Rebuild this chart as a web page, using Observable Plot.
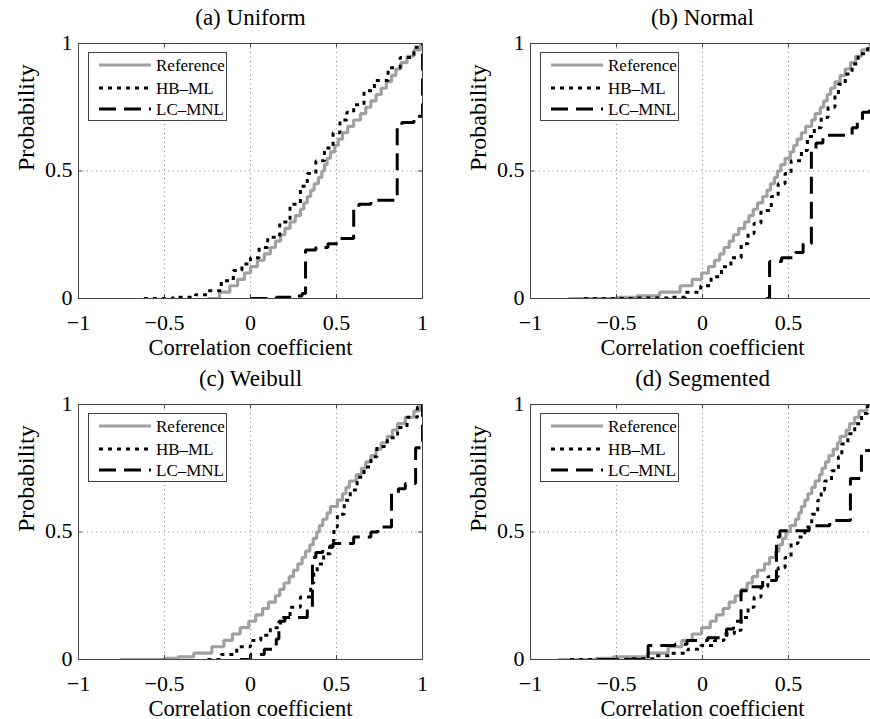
<!DOCTYPE html>
<html><head><meta charset="utf-8">
<script src="https://cdn.jsdelivr.net/npm/d3@7"></script>
<script src="https://cdn.jsdelivr.net/npm/@observablehq/plot@0.6"></script>
<style>
body{margin:0;background:#fff;}
#fig{position:relative;width:870px;height:719px;overflow:hidden;font-family:"Liberation Serif","DejaVu Serif",serif;background:#fff;}
.panel{position:absolute;}
.panel text{font-family:"Liberation Serif","DejaVu Serif",serif;}
.legend{position:absolute;width:137px;height:67px;border:1px solid #444;background:#fff;}
.legend text{font-family:"Liberation Serif","DejaVu Serif",serif;}
</style></head><body><div id="fig"></div>
<script>
// ---- data ----
const panelTitles = ["(a) Uniform", "(b) Normal", "(c) Weibull", "(d) Segmented"];
const seriesNames = ["Reference", "HB–ML", "LC–MNL"];
const xTickValues = [-1, -0.5, 0, 0.5, 1];
const xTickLabels = ["−1", "−0.5", "0", "0.5", "1"];
const yTickValues = [0, 0.5, 1];
const yTickLabels = ["0", "0.5", "1"];
const gridX = [-0.5, 0, 0.5];
const gridY = [0.5];
const xLabel = "Correlation coefficient";
const yLabel = "Probability";

// (a) Uniform
const refUniform = [[-0.25,0],[-0.18,0.025],[-0.12,0.05],[-0.075,0.075],[-0.035,0.1],[0.0,0.125],[0.04,0.15],[0.08,0.175],[0.115,0.2],[0.145,0.225],[0.175,0.25],[0.2,0.275],[0.23,0.3],[0.26,0.325],[0.29,0.35],[0.31,0.375],[0.33,0.4],[0.35,0.425],[0.37,0.45],[0.395,0.475],[0.415,0.5],[0.43,0.525],[0.445,0.55],[0.465,0.575],[0.49,0.6],[0.51,0.625],[0.535,0.65],[0.565,0.675],[0.6,0.7],[0.64,0.725],[0.67,0.75],[0.7,0.775],[0.73,0.8],[0.76,0.825],[0.79,0.85],[0.82,0.875],[0.845,0.9],[0.875,0.925],[0.91,0.95],[0.95,0.975],[0.99,1.0]];
const hbUniform = [[-0.62,0],[-0.45,0.005],[-0.32,0.015],[-0.25,0.03],[-0.17,0.07],[-0.1,0.11],[-0.05,0.135],[0.0,0.16],[0.05,0.2],[0.1,0.24],[0.17,0.3],[0.23,0.37],[0.29,0.44],[0.33,0.49],[0.38,0.54],[0.43,0.59],[0.48,0.65],[0.52,0.7],[0.56,0.73],[0.6,0.76],[0.66,0.815],[0.72,0.855],[0.8,0.905],[0.87,0.945],[0.95,0.985],[0.98,1.0]];
const lcUniform = [[0.0,0],[0.15,0.005],[0.25,0.01],[0.3,0.02],[0.32,0.19],[0.38,0.2],[0.45,0.215],[0.52,0.235],[0.6,0.35],[0.63,0.37],[0.7,0.385],[0.853,0.67],[0.88,0.69],[0.95,0.715],[1.0,1.0]];

// (b) Normal
const refNormal = [[-0.78,0],[-0.5,0.005],[-0.38,0.01],[-0.25,0.025],[-0.13,0.05],[-0.06,0.075],[-0.005,0.1],[0.035,0.125],[0.07,0.15],[0.1,0.175],[0.125,0.2],[0.155,0.225],[0.18,0.25],[0.21,0.275],[0.245,0.3],[0.27,0.325],[0.295,0.35],[0.32,0.375],[0.35,0.4],[0.375,0.425],[0.395,0.45],[0.418,0.475],[0.435,0.5],[0.455,0.525],[0.48,0.55],[0.51,0.575],[0.53,0.6],[0.55,0.625],[0.575,0.65],[0.6,0.675],[0.635,0.7],[0.655,0.725],[0.685,0.75],[0.705,0.775],[0.725,0.8],[0.745,0.825],[0.77,0.85],[0.8,0.875],[0.83,0.9],[0.86,0.925],[0.89,0.95],[0.925,0.975],[0.975,1.0]];
const hbNormal = [[-0.69,0],[-0.4,0.002],[-0.2,0.005],[-0.1,0.025],[-0.01,0.05],[0.05,0.085],[0.11,0.125],[0.165,0.16],[0.225,0.215],[0.265,0.255],[0.3,0.295],[0.34,0.345],[0.4,0.4],[0.44,0.45],[0.48,0.49],[0.515,0.54],[0.575,0.58],[0.61,0.635],[0.65,0.67],[0.69,0.71],[0.73,0.75],[0.77,0.8],[0.79,0.84],[0.83,0.88],[0.87,0.92],[0.905,0.96],[0.96,0.99],[0.99,1.0]];
const lcNormal = [[0.37,0],[0.39,0.145],[0.46,0.16],[0.54,0.18],[0.585,0.215],[0.633,0.58],[0.66,0.61],[0.7,0.64],[0.87,0.67],[0.9,0.7],[0.93,0.73],[0.97,0.745],[1.0,0.75]];

// (c) Weibull
const refWeibull = [[-0.76,0],[-0.5,0.005],[-0.42,0.01],[-0.33,0.025],[-0.225,0.05],[-0.155,0.075],[-0.105,0.1],[-0.06,0.125],[-0.01,0.15],[0.03,0.175],[0.07,0.2],[0.105,0.225],[0.145,0.25],[0.17,0.275],[0.195,0.3],[0.225,0.325],[0.25,0.35],[0.275,0.375],[0.3,0.4],[0.32,0.425],[0.345,0.45],[0.365,0.475],[0.385,0.5],[0.4,0.525],[0.42,0.55],[0.445,0.575],[0.465,0.6],[0.505,0.625],[0.535,0.65],[0.555,0.675],[0.575,0.7],[0.615,0.725],[0.645,0.75],[0.67,0.775],[0.7,0.8],[0.73,0.825],[0.76,0.85],[0.795,0.875],[0.825,0.9],[0.855,0.925],[0.9,0.95],[0.95,0.975],[0.985,1.0]];
const hbWeibull = [[-0.25,0],[-0.17,0.02],[-0.08,0.05],[0.0,0.075],[0.06,0.095],[0.115,0.125],[0.175,0.165],[0.23,0.205],[0.29,0.245],[0.35,0.3],[0.368,0.335],[0.388,0.375],[0.425,0.415],[0.465,0.465],[0.485,0.52],[0.505,0.57],[0.545,0.625],[0.58,0.665],[0.62,0.715],[0.66,0.755],[0.7,0.795],[0.735,0.835],[0.795,0.87],[0.855,0.91],[0.91,0.95],[0.97,0.99],[0.99,1.0]];
const lcWeibull = [[-0.06,0],[0.0,0.02],[0.08,0.04],[0.15,0.08],[0.165,0.15],[0.2,0.165],[0.33,0.2],[0.36,0.4],[0.38,0.42],[0.42,0.44],[0.48,0.455],[0.6,0.48],[0.7,0.5],[0.74,0.52],[0.82,0.65],[0.86,0.67],[0.9,0.69],[0.96,0.83],[1.0,1.0]];

// (d) Segmented
const refSegmented = [[-0.84,0],[-0.62,0.005],[-0.52,0.01],[-0.32,0.025],[-0.2,0.05],[-0.12,0.075],[-0.06,0.1],[-0.005,0.125],[0.045,0.15],[0.08,0.175],[0.12,0.2],[0.155,0.225],[0.19,0.25],[0.225,0.275],[0.26,0.3],[0.29,0.325],[0.32,0.35],[0.36,0.375],[0.39,0.4],[0.425,0.425],[0.445,0.45],[0.465,0.475],[0.485,0.5],[0.51,0.525],[0.54,0.55],[0.56,0.575],[0.575,0.6],[0.595,0.625],[0.613,0.65],[0.635,0.675],[0.655,0.7],[0.68,0.725],[0.695,0.75],[0.715,0.775],[0.735,0.8],[0.76,0.825],[0.785,0.85],[0.8,0.875],[0.835,0.9],[0.855,0.925],[0.885,0.95],[0.91,0.975],[0.955,1.0]];
const hbSegmented = [[-0.77,0],[-0.44,0.003],[-0.28,0.015],[-0.18,0.025],[-0.085,0.04],[-0.01,0.055],[0.07,0.075],[0.125,0.1],[0.185,0.115],[0.225,0.165],[0.265,0.205],[0.3,0.245],[0.34,0.285],[0.38,0.325],[0.44,0.36],[0.48,0.4],[0.515,0.455],[0.555,0.48],[0.595,0.52],[0.635,0.57],[0.67,0.625],[0.69,0.665],[0.71,0.7],[0.75,0.74],[0.79,0.795],[0.81,0.845],[0.845,0.885],[0.885,0.925],[0.925,0.965],[0.96,0.995],[0.99,1.0]];
const lcSegmented = [[-0.6,0],[-0.316,0.055],[-0.16,0.06],[-0.09,0.075],[0.03,0.085],[0.14,0.12],[0.18,0.15],[0.224,0.27],[0.285,0.285],[0.35,0.31],[0.43,0.48],[0.45,0.505],[0.62,0.525],[0.74,0.545],[0.86,0.71],[0.924,0.82],[1.0,0.83]];

// right-hand panels are cut at the figure edge, so their "1" label is not visible
const panels = [
  {title: panelTitles[0], ref: refUniform, hb: hbUniform, lc: lcUniform, left: 0, top: 0, xLabels: 5},
  {title: panelTitles[1], ref: refNormal, hb: hbNormal, lc: lcNormal, left: 452, top: 0, xLabels: 4},
  {title: panelTitles[2], ref: refWeibull, hb: hbWeibull, lc: lcWeibull, left: 0, top: 361, xLabels: 5},
  {title: panelTitles[3], ref: refSegmented, hb: hbSegmented, lc: lcSegmented, left: 452, top: 361, xLabels: 4}
];

// ---- styles ----
const FONT = "'Liberation Serif', 'DejaVu Serif', serif";
const refStyle = {stroke: "#a0a0a0", strokeWidth: 3.2, strokeDasharray: null};
const hbStyle = {stroke: "#000", strokeWidth: 3, strokeDasharray: "4,5"};
const lcStyle = {stroke: "#000", strokeWidth: 3, strokeDasharray: "17,8"};
const styles = [refStyle, hbStyle, lcStyle];

const fig = document.getElementById("fig");
const X = d => d[0], Y = d => d[1];

for (const p of panels) {
  const xt = xTickValues.slice(0, p.xLabels);
  const chart = Plot.plot({
    width: 435, height: 360,
    marginLeft: 78, marginRight: 13, marginTop: 43, marginBottom: 62,
    x: {domain: [-1, 1], axis: null},
    y: {domain: [0, 1], axis: null},
    style: {fontFamily: FONT, background: "transparent", overflow: "visible", color: "#000"},
    marks: [
      Plot.ruleX(gridX, {x: d => d, stroke: "#777", strokeWidth: 0.9, strokeDasharray: "1,3.5"}),
      Plot.ruleY(gridY, {y: d => d, stroke: "#777", strokeWidth: 0.9, strokeDasharray: "1,3.5"}),
      Plot.line(p.ref, {x: X, y: Y, curve: "step-after", clip: true, strokeLinecap: "butt", strokeLinejoin: "miter", ...refStyle}),
      Plot.line(p.hb, {x: X, y: Y, curve: "step-after", clip: true, strokeLinecap: "butt", strokeLinejoin: "miter", ...hbStyle}),
      Plot.line(p.lc, {x: X, y: Y, curve: "step-after", clip: true, strokeLinecap: "butt", strokeLinejoin: "miter", ...lcStyle}),
      Plot.frame({stroke: "#444", strokeWidth: 1}),
      Plot.ruleX(xTickValues, {x: d => d, y1: 0, y2: 0.016, stroke: "#444"}),
      Plot.ruleX(xTickValues, {x: d => d, y1: 1, y2: 0.984, stroke: "#444"}),
      Plot.ruleY(yTickValues, {y: d => d, x1: -1, x2: -0.977, stroke: "#444"}),
      Plot.ruleY(yTickValues, {y: d => d, x1: 1, x2: 0.977, stroke: "#444"}),
      Plot.text(xt, {x: d => d, frameAnchor: "bottom", dy: 31, lineAnchor: "bottom", text: (d, i) => xTickLabels[i], fontSize: 22, fill: "#000"}),
      Plot.text(yTickValues, {y: d => d, frameAnchor: "left", dx: -6, dy: -1, textAnchor: "end", lineAnchor: "middle", text: (d, i) => yTickLabels[i], fontSize: 22, fill: "#000"}),
      Plot.text([xLabel], {frameAnchor: "bottom", dy: 56, lineAnchor: "bottom", text: d => d, fontSize: 22.5, fill: "#000"}),
      Plot.text([yLabel], {frameAnchor: "left", dx: -45, rotate: -90, lineAnchor: "bottom", text: d => d, fontSize: 24, fill: "#000"}),
      Plot.text([p.title], {frameAnchor: "top", dy: -19, lineAnchor: "bottom", text: d => d, fontSize: 23, fill: "#000"})
    ]
  });
  chart.classList.add("panel");
  chart.style.left = p.left + "px";
  chart.style.top = p.top + "px";
  fig.appendChild(chart);

  // legend box
  const lg = document.createElement("div");
  lg.className = "legend";
  lg.style.left = (p.left + 88) + "px";
  lg.style.top = (p.top + 52) + "px";
  const rows = [12, 35, 56];
  let svg = `<svg width="137" height="67" xmlns="http://www.w3.org/2000/svg" style="display:block">`;
  seriesNames.forEach((name, i) => {
    const s = styles[i];
    svg += `<line x1="10" x2="62" y1="${rows[i]}" y2="${rows[i]}" stroke="${s.stroke}" stroke-width="${s.strokeWidth}" ${s.strokeDasharray ? `stroke-dasharray="${s.strokeDasharray}"` : ""}/>`;
    svg += `<text x="67" y="${rows[i] + 6}" font-size="17" fill="#000">${name}</text>`;
  });
  svg += `</svg>`;
  lg.innerHTML = svg;
  fig.appendChild(lg);
}
</script></body></html>
